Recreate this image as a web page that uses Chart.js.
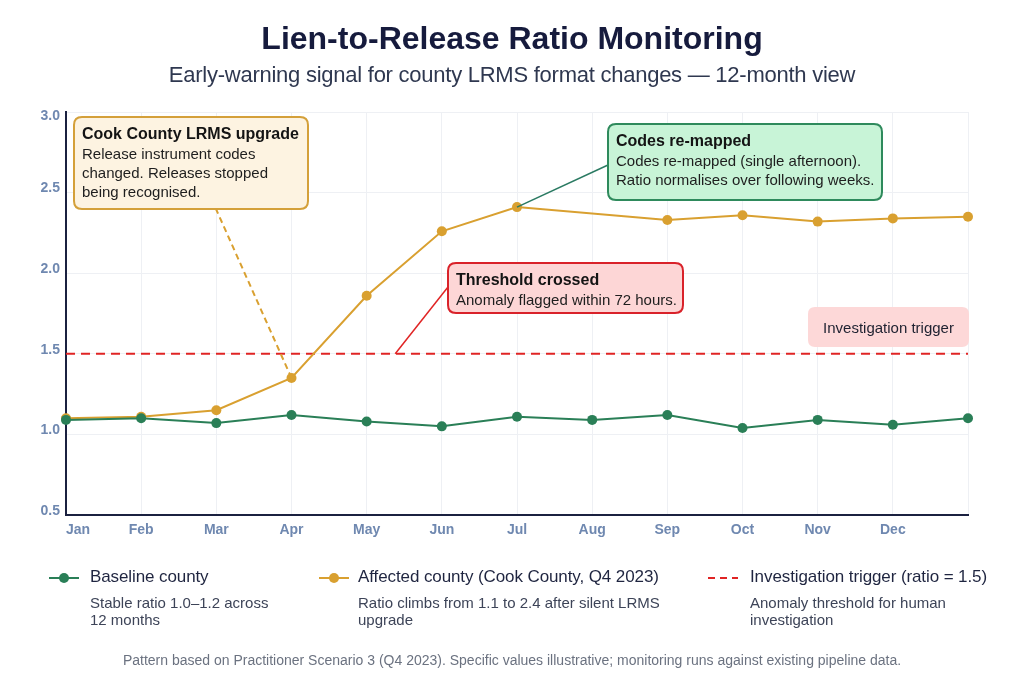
<!DOCTYPE html>
<html>
<head>
<meta charset="utf-8">
<script src="https://cdn.jsdelivr.net/npm/chart.js@4.4.1/dist/chart.umd.min.js"></script>
<style>
  html, body { margin: 0; padding: 0; background: #ffffff; }
  #page { position: relative; width: 1024px; height: 685px; overflow: hidden; font-family: "Liberation Sans", Arial, sans-serif; }
  #wrap { position: absolute; left: 0; top: 0; width: 1024px; height: 685px; }
  .t { position: absolute; white-space: nowrap; pointer-events: none; }
  #title { left: 0; width: 1024px; text-align: center; top: 22px; font-size: 32px; line-height: 32px; font-weight: bold; color: #161b3d; }
  #subtitle { left: 0; width: 1024px; text-align: center; top: 64px; font-size: 22px; line-height: 22px; color: #2f3850; letter-spacing: -0.25px; }
  .lg-title { top: 568px; font-size: 17px; line-height: 17px; color: #1f2540; letter-spacing: -0.1px; }
  .lg-desc { top: 594px; font-size: 15px; line-height: 17px; color: #3d4458; }
  #footer { left: 0; width: 1024px; text-align: center; top: 653px; font-size: 14px; line-height: 14px; color: #6b7280; }
  .sym { position: absolute; top: 571px; width: 30px; height: 14px; }
</style>
</head>
<body>
<div id="page">
  <div id="wrap"><canvas id="c"></canvas></div>
  <div class="t" id="title">Lien-to-Release Ratio Monitoring</div>
  <div class="t" id="subtitle">Early-warning signal for county LRMS format changes — 12-month view</div>

  <svg class="sym" style="left:49px" viewBox="0 0 30 14"><line x1="0" y1="7" x2="30" y2="7" stroke="#2a7f57" stroke-width="2"/><circle cx="15" cy="7" r="5" fill="#2a7f57"/></svg>
  <div class="t lg-title" style="left:90px">Baseline county</div>
  <div class="t lg-desc" style="left:90px">Stable ratio 1.0–1.2 across<br>12 months</div>

  <svg class="sym" style="left:319px" viewBox="0 0 30 14"><line x1="0" y1="7" x2="30" y2="7" stroke="#d9a030" stroke-width="2"/><circle cx="15" cy="7" r="5" fill="#d9a030"/></svg>
  <div class="t lg-title" style="left:358px">Affected county (Cook County, Q4 2023)</div>
  <div class="t lg-desc" style="left:358px">Ratio climbs from 1.1 to 2.4 after silent LRMS<br>upgrade</div>

  <svg class="sym" style="left:708px" viewBox="0 0 30 14"><line x1="0" y1="7" x2="30" y2="7" stroke="#e02424" stroke-width="2" stroke-dasharray="7,5"/></svg>
  <div class="t lg-title" style="left:750px">Investigation trigger (ratio = 1.5)</div>
  <div class="t lg-desc" style="left:750px">Anomaly threshold for human<br>investigation</div>

  <div class="t" id="footer">Pattern based on Practitioner Scenario 3 (Q4 2023). Specific values illustrative; monitoring runs against existing pipeline data.</div>
</div>
<script>
// ---- data ----
const months = ["Jan","Feb","Mar","Apr","May","Jun","Jul","Aug","Sep","Oct","Nov","Dec",""];
const baseline = [1.09, 1.10, 1.07, 1.12, 1.08, 1.05, 1.11, 1.09, 1.12, 1.04, 1.09, 1.06, 1.10];
const affected = [1.10, 1.11, 1.15, 1.35, 1.86, 2.26, 2.41, null, 2.33, 2.36, 2.32, 2.34, 2.35];
const THRESHOLD = 1.5;
const yTicks = [0.5, 1.0, 1.5, 2.0, 2.5, 3.0];

// ---- colours ----
const GREEN = "#2a7f57", ORANGE = "#d9a030", RED = "#e02424", NAVY = "#1b2140";

// ---- annotation layout (pixels) ----
const notes = [
  { box: [74, 117, 308, 209], fill: "#fdf3e1", stroke: "#d4a03a", line: ORANGE, dash: [6, 4], lw: 2,
    anchor: { series: "affected", index: 3 }, end: [216, 209],
    title: "Cook County LRMS upgrade", body: ["Release instrument codes", "changed. Releases stopped", "being recognised."],
    tx: 82, ty: 139 },
  { box: [608, 124, 882, 200], fill: "#c8f4d7", stroke: "#2e8a5c", line: "#2a7a62", dash: [], lw: 1.5,
    anchor: { series: "affected", index: 6 }, end: [608, 165],
    title: "Codes re-mapped", body: ["Codes re-mapped (single afternoon).", "Ratio normalises over following weeks."],
    tx: 616, ty: 146 },
  { box: [448, 263, 683, 313], fill: "#fdd6d6", stroke: "#d9222a", line: RED, dash: [], lw: 1.5,
    anchor: { xValue: 4.38, yValue: THRESHOLD }, end: [448, 287],
    title: "Threshold crossed", body: ["Anomaly flagged within 72 hours."],
    tx: 456, ty: 285 }
];
const triggerLabel = { box: [808, 307, 969, 347], fill: "#fdd8d8", text: "Investigation trigger", ty: 333 };

function roundRect(ctx, x0, y0, x1, y1, r) {
  ctx.beginPath();
  ctx.moveTo(x0 + r, y0);
  ctx.lineTo(x1 - r, y0); ctx.quadraticCurveTo(x1, y0, x1, y0 + r);
  ctx.lineTo(x1, y1 - r); ctx.quadraticCurveTo(x1, y1, x1 - r, y1);
  ctx.lineTo(x0 + r, y1); ctx.quadraticCurveTo(x0, y1, x0, y1 - r);
  ctx.lineTo(x0, y0 + r); ctx.quadraticCurveTo(x0, y0, x0 + r, y0);
  ctx.closePath();
}

const thresholdPlugin = {
  id: "threshold",
  beforeDatasetsDraw(chart) {
    const { ctx, chartArea, scales } = chart;
    const y = scales.y.getPixelForValue(THRESHOLD);
    ctx.save();
    ctx.strokeStyle = RED; ctx.lineWidth = 2; ctx.setLineDash([9, 6]);
    ctx.beginPath(); ctx.moveTo(chartArea.left, y); ctx.lineTo(chartArea.right, y); ctx.stroke();
    ctx.restore();
  }
};

const notesPlugin = {
  id: "notes",
  afterDatasetsDraw(chart) {
    const { ctx, scales } = chart;
    const seriesMap = { baseline, affected };
    ctx.save();
    notes.forEach(n => {
      let ax, ay;
      if (n.anchor.series) {
        ax = scales.x.getPixelForValue(n.anchor.index);
        ay = scales.y.getPixelForValue(seriesMap[n.anchor.series][n.anchor.index]);
      } else {
        ax = scales.x.getPixelForValue(n.anchor.xValue);
        ay = scales.y.getPixelForValue(n.anchor.yValue);
      }
      ctx.strokeStyle = n.line; ctx.lineWidth = n.lw; ctx.setLineDash(n.dash);
      ctx.beginPath(); ctx.moveTo(ax, ay); ctx.lineTo(n.end[0], n.end[1]); ctx.stroke();
    });
    ctx.setLineDash([]);
    notes.forEach(n => {
      const [x0, y0, x1, y1] = n.box;
      roundRect(ctx, x0, y0, x1, y1, 8);
      ctx.fillStyle = n.fill; ctx.fill();
      ctx.strokeStyle = n.stroke; ctx.lineWidth = 2; ctx.stroke();
      ctx.textAlign = "left"; ctx.textBaseline = "alphabetic";
      ctx.fillStyle = "#141414";
      ctx.font = "bold 16px 'Liberation Sans', Arial, sans-serif";
      ctx.fillText(n.title, n.tx, n.ty);
      ctx.fillStyle = "#1e1e1e";
      ctx.font = "15px 'Liberation Sans', Arial, sans-serif";
      n.body.forEach((l, i) => ctx.fillText(l, n.tx, n.ty + 20 + i * 19));
    });
    const b = triggerLabel.box;
    roundRect(ctx, b[0], b[1], b[2], b[3], 7);
    ctx.fillStyle = triggerLabel.fill; ctx.fill();
    ctx.fillStyle = "#1e2130"; ctx.textAlign = "center";
    ctx.font = "15px 'Liberation Sans', Arial, sans-serif";
    ctx.fillText(triggerLabel.text, (b[0] + b[2]) / 2, triggerLabel.ty);
    ctx.restore();
  }
};

const tickFont = { family: "'Liberation Sans', Arial, sans-serif", size: 14, weight: "bold" };

new Chart(document.getElementById("c"), {
  type: "line",
  data: {
    labels: months,
    datasets: [
      { label: "Baseline county", data: baseline, borderColor: GREEN, backgroundColor: GREEN,
        borderWidth: 2, pointRadius: 5, pointHoverRadius: 5, pointBorderWidth: 0, tension: 0 },
      { label: "Affected county (Cook County, Q4 2023)", data: affected, borderColor: ORANGE, backgroundColor: ORANGE,
        borderWidth: 2, pointRadius: 5, pointHoverRadius: 5, pointBorderWidth: 0, tension: 0, spanGaps: true }
    ]
  },
  options: {
    responsive: true, maintainAspectRatio: false, animation: false,
    layout: { padding: { top: 112, right: 56, left: 0, bottom: 0 } },
    plugins: { legend: { display: false }, title: { display: false }, tooltip: { enabled: false } },
    scales: {
      x: {
        type: "category", offset: false,
        grid: { color: "#eef0f4", lineWidth: 1, drawTicks: false },
        border: { color: NAVY, width: 2 },
        ticks: { color: "#6f88b0", font: tickFont, padding: 7, autoSkip: false, maxRotation: 0, align: "inner" },
        afterFit(s) { s.height = 170; }
      },
      y: {
        min: 0.5, max: 3.0,
        afterBuildTicks(s) { s.ticks = yTicks.map(v => ({ value: v })); },
        grid: { color: "#eef0f4", lineWidth: 1, drawTicks: false },
        border: { color: NAVY, width: 2 },
        ticks: { color: "#6f88b0", font: tickFont, padding: 6, labelOffset: -4,
                 callback: v => (v === 3 ? ["", Number(v).toFixed(1)] : Number(v).toFixed(1)) },
        afterFit(s) { s.width = 66; }
      }
    }
  },
  plugins: [thresholdPlugin, notesPlugin]
});
</script>
</body>
</html>
